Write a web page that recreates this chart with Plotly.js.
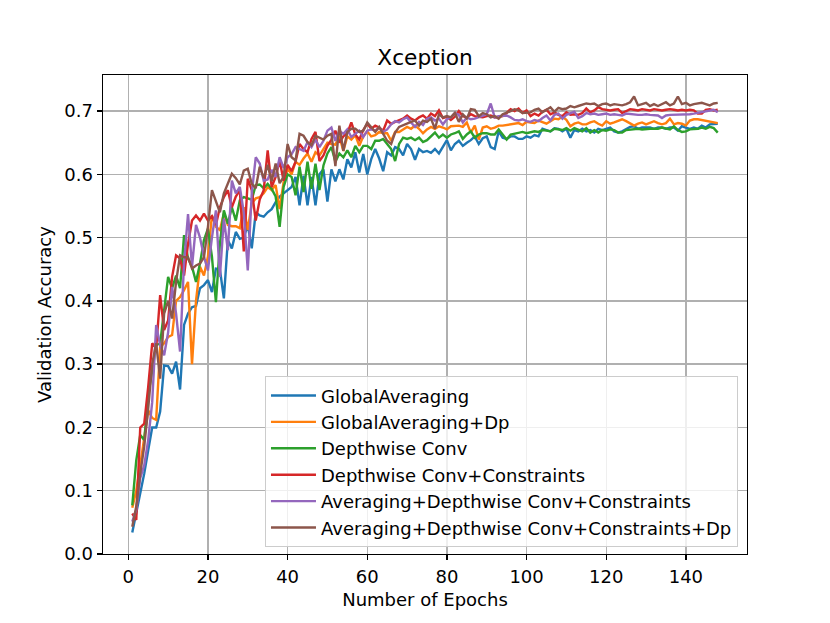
<!DOCTYPE html>
<html>
<head>
<meta charset="utf-8">
<script src="https://cdn.plot.ly/plotly-3.0.1.min.js"></script>
<style>
  html, body { margin: 0; padding: 0; background: #fff; }
  #chart { width: 830px; height: 623px; }
</style>
</head>
<body>
<div id="chart"></div>
<script>
// ── validation accuracy per epoch ──
const GLOBAL_AVG = [
  .034,.065,.100,.127,.164,.200,.200,.225,.298,.297,
  .285,.304,.260,.362,.380,.390,.392,.420,.425,.433,
  .414,.451,.450,.404,.496,.483,.509,.498,.500,.520,
  .483,.540,.535,.533,.540,.545,.556,.565,.570,.575,
  .580,.596,.551,.598,.551,.596,.551,.600,.608,.557,
  .608,.589,.608,.592,.624,.611,.635,.603,.632,.600,
  .624,.640,.625,.605,.635,.630,.643,.640,.630,.648,
  .640,.623,.640,.635,.637,.634,.640,.633,.643,.654,
  .638,.648,.653,.645,.650,.654,.660,.648,.657,.660,
  .643,.640,.668,.658,.656,.660,.660,.656,.656,.660,
  .658,.662,.660,.672,.670,.668,.673,.672,.668,.672,
  .658,.670,.668,.672,.668,.670,.666,.672,.670,.672,
  .674,.668,.666,.668,.672,.675,.676,.672,.674,.674,
  .674,.672,.674,.674,.672,.674,.674,.669,.676,.674,
  .672,.674,.672,.677,.674,.679,.679,.680
];
const GLOBAL_AVG_DP = [
  .073,.100,.140,.180,.227,.215,.212,.327,.333,.343,
  .346,.400,.406,.417,.430,.300,.400,.454,.440,.470,
  .535,.517,.512,.538,.520,.518,.518,.515,.548,.512,
  .554,.562,.564,.570,.580,.575,.583,.545,.588,.609,
  .600,.620,.615,.625,.633,.620,.635,.630,.640,.650,
  .648,.647,.660,.637,.660,.655,.662,.645,.660,.668,
  .660,.662,.667,.665,.665,.653,.667,.667,.671,.675,
  .672,.677,.672,.665,.671,.675,.672,.676,.674,.671,
  .676,.677,.677,.675,.682,.666,.677,.655,.674,.676,
  .672,.674,.677,.677,.678,.678,.680,.681,.678,.683,
  .682,.681,.685,.682,.680,.684,.688,.687,.691,.686,
  .676,.680,.682,.679,.679,.682,.684,.680,.677,.684,
  .680,.682,.685,.687,.684,.680,.677,.680,.682,.679,
  .682,.684,.681,.679,.681,.688,.679,.681,.680,.677,
  .685,.687,.687,.686,.685,.684,.682,.681
];
const DEPTHWISE = [
  .077,.148,.188,.180,.250,.293,.330,.333,.383,.438,
  .420,.440,.420,.504,.467,.454,.430,.459,.496,.514,
  .470,.398,.490,.543,.522,.548,.527,.559,.564,.562,
  .560,.583,.584,.578,.585,.577,.565,.517,.580,.600,
  .596,.567,.612,.572,.620,.577,.617,.575,.614,.633,
  .643,.620,.633,.627,.638,.627,.645,.635,.645,.645,
  .640,.653,.653,.656,.648,.640,.621,.648,.658,.656,
  .658,.654,.658,.651,.654,.660,.666,.658,.663,.658,
  .663,.665,.668,.656,.663,.668,.658,.663,.665,.665,
  .663,.663,.671,.663,.655,.663,.664,.665,.667,.665,
  .667,.668,.667,.670,.669,.668,.672,.671,.670,.673,
  .669,.673,.671,.668,.673,.666,.670,.666,.670,.669,
  .671,.670,.666,.666,.670,.671,.672,.672,.671,.672,
  .672,.672,.672,.674,.672,.671,.676,.670,.667,.668,
  .671,.671,.672,.674,.672,.675,.673,.666
];
const DEPTHWISE_CONSTR = [
  .064,.054,.200,.206,.264,.333,.325,.409,.354,.369,
  .438,.472,.467,.440,.490,.527,.535,.527,.538,.527,
  .534,.520,.548,.564,.575,.548,.565,.575,.478,.593,
  .575,.527,.560,.575,.638,.580,.596,.622,.590,.615,
  .605,.620,.648,.640,.635,.656,.667,.621,.630,.645,
  .655,.669,.650,.660,.665,.682,.663,.655,.670,.680,
  .672,.677,.674,.669,.685,.680,.683,.685,.688,.693,
  .688,.685,.690,.693,.688,.696,.692,.701,.689,.691,
  .686,.691,.700,.692,.690,.695,.692,.691,.690,.692,
  .693,.690,.691,.692,.697,.703,.700,.704,.697,.701,
  .692,.696,.693,.699,.702,.695,.698,.694,.692,.698,
  .694,.695,.694,.697,.704,.698,.701,.706,.703,.702,
  .701,.702,.703,.697,.700,.703,.702,.701,.703,.702,
  .701,.703,.702,.701,.702,.703,.702,.701,.702,.701,
  .702,.701,.696,.696,.702,.703,.701,.702
];
const AVG_DEPTH_CONSTR = [
  .051,.070,.120,.140,.180,.240,.362,.330,.314,.350,
  .422,.380,.320,.460,.537,.454,.520,.500,.470,.448,
  .500,.543,.438,.530,.480,.590,.570,.580,.540,.448,
  .570,.627,.617,.590,.592,.607,.596,.627,.610,.627,
  .632,.643,.640,.637,.651,.643,.655,.643,.653,.669,
  .674,.653,.669,.664,.671,.659,.664,.669,.659,.669,
  .671,.669,.674,.667,.671,.679,.684,.682,.687,.690,
  .682,.675,.683,.678,.688,.690,.685,.688,.679,.687,
  .690,.697,.694,.682,.690,.687,.688,.690,.692,.695,
  .712,.690,.692,.693,.693,.690,.686,.685,.687,.684,
  .683,.686,.684,.689,.693,.685,.694,.696,.688,.694,
  .696,.699,.689,.692,.697,.695,.696,.694,.695,.696,
  .694,.695,.694,.693,.696,.695,.695,.694,.694,.695,
  .694,.693,.693,.689,.693,.694,.694,.695,.695,.695,
  .695,.696,.697,.698,.699,.700,.702,.698
];
const AVG_DEPTH_CONSTR_DP = [
  .043,.075,.127,.170,.230,.300,.333,.277,.380,.400,
  .372,.430,.472,.469,.469,.451,.456,.459,.469,.517,
  .575,.559,.540,.570,.585,.601,.594,.584,.606,.609,
  .585,.578,.612,.594,.615,.589,.617,.586,.596,.648,
  .627,.622,.664,.661,.651,.646,.661,.658,.655,.661,
  .664,.613,.677,.637,.667,.672,.672,.667,.669,.682,
  .675,.667,.675,.664,.653,.648,.666,.675,.678,.680,
  .683,.685,.677,.685,.683,.688,.672,.695,.690,.692,
  .690,.697,.683,.695,.688,.703,.702,.692,.697,.695,
  .690,.692,.688,.695,.697,.700,.703,.701,.697,.698,
  .698,.702,.704,.698,.702,.706,.699,.705,.703,.704,
  .708,.706,.708,.710,.712,.711,.712,.708,.711,.712,
  .709,.711,.710,.709,.711,.714,.723,.709,.711,.713,
  .708,.711,.708,.711,.714,.709,.712,.723,.711,.713,
  .709,.711,.712,.713,.711,.709,.712,.713
];

const SERIES_NAMES = [
  'GlobalAveraging',
  'GlobalAveraging+Dp',
  'Depthwise Conv',
  'Depthwise Conv+Constraints',
  'Averaging+Depthwise Conv+Constraints',
  'Averaging+Depthwise Conv+Constraints+Dp',
];
const SERIES_VALUES = [GLOBAL_AVG, GLOBAL_AVG_DP, DEPTHWISE, DEPTHWISE_CONSTR, AVG_DEPTH_CONSTR, AVG_DEPTH_CONSTR_DP];
const X_TICKS = [0, 20, 40, 60, 80, 100, 120, 140];
const Y_TICKS = [0.0, 0.1, 0.2, 0.3, 0.4, 0.5, 0.6, 0.7];

// epochs are just the 1-based index of each value
const EPOCHS = GLOBAL_AVG.map((_, i) => i + 1);

const COLORS = ['#1f77b4', '#ff7f0e', '#2ca02c', '#d62728', '#9467bd', '#8c564b'];
const FONT = 'DejaVu Sans, Liberation Sans, sans-serif';

const traces = SERIES_VALUES.map((vals, i) => ({
  type: 'scatter', mode: 'lines',
  name: SERIES_NAMES[i],
  x: EPOCHS, y: vals,
  line: { color: COLORS[i], width: 2.4 },
}));

function axisStyle(extra) {
  return {
    showline: true, mirror: true, linecolor: '#000', linewidth: 1.4,
    ticks: 'outside', ticklen: 5, tickwidth: 1.4, tickcolor: '#000',
    showgrid: true, gridcolor: '#b0b0b0', gridwidth: 1.4,
    zeroline: false,
    tickfont: { family: FONT, size: 18, color: '#000' },
    ...extra,
  };
}

const layout = {
  width: 830, height: 623,
  paper_bgcolor: '#fff', plot_bgcolor: '#fff',
  margin: { l: 103, r: 83, t: 75, b: 69 },
  font: { family: FONT, color: '#000' },
  title: {
    text: 'Xception',
    font: { family: FONT, size: 21.7, color: '#000' },
    x: 0.5, xref: 'paper', xanchor: 'center',
    y: 1 - 57 / 623, yref: 'container', yanchor: 'middle',
  },
  xaxis: axisStyle({
    range: [-6.35, 155.35],
    tickvals: X_TICKS,
    ticklabelstandoff: 1,
    title: { text: 'Number of Epochs', font: { family: FONT, size: 18, color: '#000' }, standoff: 7 },
  }),
  yaxis: axisStyle({
    range: [0, 0.757],
    tickvals: Y_TICKS, tickformat: '.1f',
    ticklabelstandoff: 0,
    title: { text: 'Validation Accuracy', font: { family: FONT, size: 18, color: '#000' }, standoff: 8 },
  }),
  legend: {
    x: 0.986, xanchor: 'right', y: 0.014, yanchor: 'bottom',
    bgcolor: 'rgba(255,255,255,0.8)', bordercolor: '#cccccc', borderwidth: 1,
    font: { family: FONT, size: 18, color: '#000' },
    itemwidth: 45,
    tracegroupgap: 0,
  },
  showlegend: true,
};

Plotly.newPlot('chart', traces, layout, { displayModeBar: false, staticPlot: true });
</script>
</body>
</html>
